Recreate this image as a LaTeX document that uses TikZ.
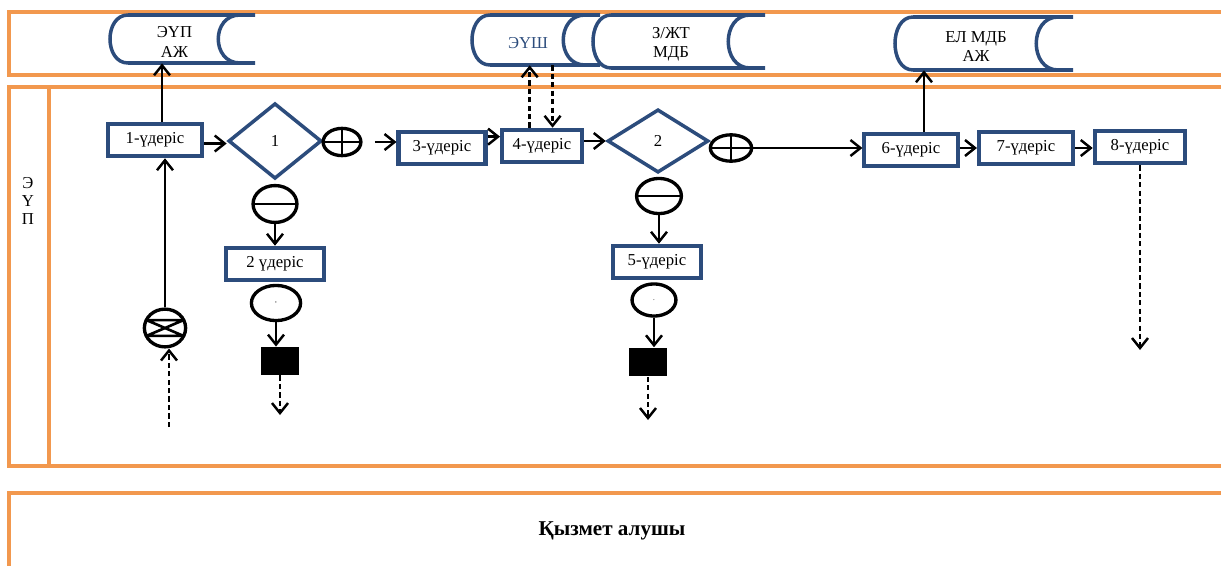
\documentclass[tikz,border=0pt]{standalone}
\usepackage{fontspec}
\setmainfont{Liberation Serif}
\usepackage{xcolor}
\usetikzlibrary{positioning, arrows.meta, calc, shapes.geometric}

\definecolor{laneorange}{RGB}{242,152,78}
\definecolor{boxblue}{RGB}{44,76,124}
\newcommand{\lblfont}{\fontsize{9.5}{11}\selectfont}

% stored-data symbol: name, left x, right x, top y, bottom y, text
\newcommand{\datastore}[6]{%
  \draw[storeline] (#2+18,#4) -- (#3,#4) (#2+18,#5) -- (#3,#5)
    (#2+18,#4) .. controls (#2-6,#4) and (#2-6,#5) .. (#2+18,#5)
    (#3-15,#4) .. controls (#3-44,#4) and (#3-44,#5) .. (#3-15,#5);
  \node[storetext, minimum height={(#5-#4)*0.02cm}] (#1) at ({(#2+#3)/2-8},{(#4+#5)/2}) {};
  \node[storetext] (#1-txt) at ({(#2+#3)/2-8},{(#4+#5)/2+3}) {#6};
}

\begin{document}
\begin{tikzpicture}[
    x=0.02cm, y=-0.02cm,
    >={Straight Barb[length=2mm, width=3.2mm]},
    lane/.style={draw=laneorange, line width=2pt},
    storeline/.style={draw=boxblue, line width=2pt},
    storetext/.style={inner sep=0pt, align=center, font=\lblfont},
    proc/.style={rectangle, draw=boxblue, line width=2.3pt, minimum height=18.5pt, inner sep=1pt, font=\lblfont},
    cond/.style={diamond, draw=boxblue, line width=2pt, inner sep=0pt, font=\lblfont},
    gate/.style={ellipse, draw, line width=1.9pt, inner sep=0pt},
    plusgate/.style={gate, path picture={
        \draw[line width=1.5pt] (path picture bounding box.north) -- (path picture bounding box.south)
            (path picture bounding box.west) -- (path picture bounding box.east);}},
    minusgate/.style={gate, path picture={
        \draw[line width=1.5pt] (path picture bounding box.west) -- (path picture bounding box.east);}},
    startgate/.style={gate, path picture={
        \draw[line width=1.5pt]
            ([yshift=4.5pt]path picture bounding box.west) -- ([yshift=4.5pt]path picture bounding box.east)
            ([yshift=-4.5pt]path picture bounding box.west) -- ([yshift=-4.5pt]path picture bounding box.east)
            ([xshift=1.2pt, yshift=4.5pt]path picture bounding box.west) -- ([xshift=-1.2pt, yshift=-4.5pt]path picture bounding box.east)
            ([xshift=1.2pt, yshift=-4.5pt]path picture bounding box.west) -- ([xshift=-1.2pt, yshift=4.5pt]path picture bounding box.east);}},
    endbox/.style={rectangle, fill=black, inner sep=0pt},
    flow/.style={->, line width=1.4pt},
    dflow/.style={->, line width=1.4pt, dash pattern=on 3pt off 1.8pt}
]
    \useasboundingbox (0,0) rectangle (1221,565);

    % Swimlanes
    \draw[lane] (9,12) rectangle (1240,75);
    \draw[lane] (9,87) rectangle (1240,466);
    \draw[lane] (49,87) -- (49,466);
    \draw[lane] (9,493) rectangle (1240,590);
    \node[font=\fontsize{9.5}{10}\selectfont, align=center] (lanelbl) at (28,201) {Э\\Ү\\П};
    \node[font=\bfseries\fontsize{12}{14}\selectfont] (client) at (612,531) {Қызмет алушы};

    % Information systems
    \datastore{ais1}{110}{255}{15}{63}{ЭҮП\\АЖ}
    \datastore{eush}{472}{600}{15}{65}{\color{boxblue}ЭҮШ}
    \datastore{zjt}{593}{765}{15}{68}{З/ЖТ\\МДБ}
    \datastore{elmdb}{895}{1073}{17}{70}{ЕЛ МДБ\\АЖ}

    % Processes
    \node[proc, minimum width=54pt]   (u1) at (155,140) {1-үдеріс};
    \node[proc, minimum width=55.5pt] (u2) at (275,264) {2 үдеріс};
    \node[proc, minimum width=49.5pt] (u3) at (442,148) {3-үдеріс};
    \node[proc, minimum width=45.5pt] (u4) at (542,146) {4-үдеріс};
    \node[proc, minimum width=50pt]   (u5) at (657,262) {5-үдеріс};
    \node[proc, minimum width=53pt]   (u6) at (911,150) {6-үдеріс};
    \node[proc, minimum width=53.5pt] (u7) at (1026,148) {7-үдеріс};
    \node[proc, minimum width=51.5pt] (u8) at (1140,147) {8-үдеріс};

    % Decisions and their outcomes
    \node[cond, minimum width=53pt, minimum height=43pt] (d1) at (275,141) {1};
    \node[plusgate, minimum width=21.5pt, minimum height=15.5pt] (yes1) at (342,142) {};
    \node[minusgate, minimum width=25pt, minimum height=21pt] (no1) at (275,204) {};
    \node[cond, minimum width=57.5pt, minimum height=36pt] (d2) at (658,141) {2};
    \node[plusgate, minimum width=23.5pt, minimum height=15pt] (yes2) at (731,148) {};
    \node[minusgate, minimum width=25.5pt, minimum height=20pt] (no2) at (659,196) {};

    % Start and ends
    \node[startgate, minimum width=23.5pt, minimum height=21.5pt] (x0) at (165,328) {};
    \node[gate, minimum width=28pt, minimum height=20pt, font=\fontsize{4}{4}\selectfont] (e1) at (276,303) {,};
    \node[gate, minimum width=25pt, minimum height=18.3pt, font=\fontsize{4}{4}\selectfont] (e2) at (654,300) {.};
    \node[endbox, minimum width=21.5pt, minimum height=16pt] (end1) at (280,361) {};
    \node[endbox, minimum width=22pt, minimum height=16.4pt] (end2) at (648,362) {};
    \coordinate (in0) at (169,427);
    \coordinate (out1) at (278,415);
    \coordinate (out2) at (648,420);
    \coordinate (out3) at (1137,350);

    % Flow
    \draw[dflow] (in0) -- (in0 |- x0.south);
    \draw[flow] (x0.north) -- (x0.north |- u1.south);
    \draw[flow] ([xshift=4pt]u1.north) -- ([xshift=4pt]u1.north |- ais1.south);
    \draw[flow] ([yshift=-2pt]u1.east) -- ([yshift=-2pt]u1.east -| d1.west);
    \draw[flow, shorten <=7pt] (yes1.east) -- (yes1.east -| u3.west);
    \draw[flow] (no1.south) -- (no1.south |- u2.north);
    \draw[flow] (e1.south) -- (e1.south |- end1.north);
    \draw[dflow] (end1.south) -- (end1.south |- out1);
    \draw[flow] (u3.14) -- (u3.14 -| u4.west);
    \draw[dflow] ([xshift=-7pt]u4.north) -- ([xshift=-7pt]u4.north |- eush.south);
    \draw[dflow] ([xshift=6pt]u4.north |- eush.south) -- ([xshift=6pt]u4.north);
    \draw[flow] (d2.west -| u4.east) -- (d2.west);
    \draw[flow] (yes2.east) -- (yes2.east -| u6.west);
    \draw[flow] (no2.south) -- (no2.south |- u5.north);
    \draw[flow] (e2.south) -- (e2.south |- end2.north);
    \draw[dflow] (end2.south) -- (end2.south |- out2);
    \draw[flow] ([xshift=7.4pt]u6.north) -- ([xshift=7.4pt]u6.north |- elmdb.south);
    \draw[flow] (u7.west -| u6.east) -- (u7.west);
    \draw[flow] (u7.east) -- (u7.east -| u8.west);
    \draw[dflow] (u8.south) -- (u8.south |- out3);
\end{tikzpicture}
\end{document}
